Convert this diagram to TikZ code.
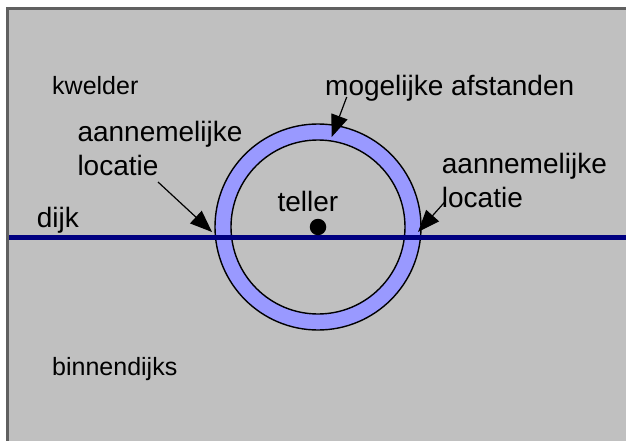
\documentclass[tikz,border=0pt]{standalone}
\usepackage{fontspec}
\setmainfont{Liberation Sans}
\usetikzlibrary{arrows.meta}
\definecolor{bggray}{HTML}{C0C0C0}
\definecolor{ringblue}{HTML}{9999FF}
\definecolor{dijkblue}{HTML}{000080}
\begin{document}
\begin{tikzpicture}[x=1pt,y=-1pt,
  lbl/.style={anchor=base west,inner sep=0pt,font=\fontsize{28}{34}\selectfont},
  small/.style={anchor=base west,inner sep=0pt,font=\fontsize{25}{30}\selectfont},
  pointer/.style={line width=1.2pt,-{Triangle[length=22pt,width=17pt]}}]
\useasboundingbox (0,0) rectangle (626,441);
\fill[white] (0,0) rectangle (626,441);
\fill[bggray] (8,9) rectangle (640,460);
\draw[gray!75!black,line width=2.5pt] (7.5,460) -- (7.5,8.5) -- (640,8.5);
% ring
\fill[ringblue,even odd rule] (318,227) circle[radius=103] (318,227) circle[radius=87];
\draw[black,line width=1.4pt] (318,227) circle[radius=103];
\draw[black,line width=1.4pt] (318,227) circle[radius=87];
% dijk line
\coordinate (dl) at (9,237.5);
\coordinate (dr) at (626,237.5);
\draw[dijkblue,line width=5pt] (dl) -- (dr);
% teller dot
\node[circle,fill=black,inner sep=0pt,minimum size=16.5pt] (dot) at (318,227) {};
% labels
\node[small] (kwelder) at (52,94.3) {kwelder};
\node[small] (binnen) at (52,375) {binnendijks};
\node[lbl] (dijk) at (36.7,227.3) {dijk};
\node[lbl] (teller) at (277.3,211.7) {teller};
\node[lbl] (mog) at (325,96) {mogelijke afstanden};
\node[lbl,align=left,anchor=north west] (locl) at (77.3,121.5) {aannemelijke\\locatie};
\node[lbl,align=left,anchor=north west] (locr) at (441.7,153) {aannemelijke\\locatie};
% arrows
\coordinate (ms) at (346.7,97);
\coordinate (mt) at (331.7,137);
\coordinate (ls) at (158,182);
\coordinate (lt) at (212,232);
\coordinate (rs) at (445,201.7);
\coordinate (rt) at (418,232);
\draw[pointer] (ms) -- (mt);
\draw[pointer] (ls) -- (lt);
\draw[pointer] (rs) -- (rt);
\end{tikzpicture}
\end{document}
